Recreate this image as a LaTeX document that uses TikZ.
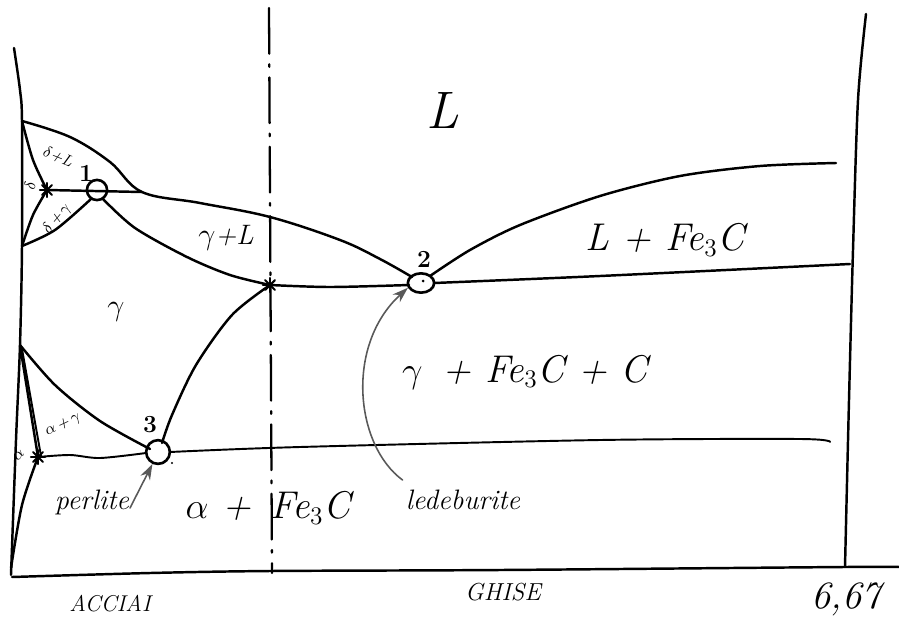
\documentclass[tikz,border=0pt]{standalone}
\usetikzlibrary{arrows.meta,shapes.geometric,calc}
\begin{document}
\begin{tikzpicture}[x=0.02cm,y=-0.02cm,line cap=round,line join=round,
  curve/.style={line width=1.4pt,black},
  thin curve/.style={line width=1.1pt,black},
  pointer/.style={line width=0.9pt,black!65,-{Stealth[length=9pt,width=6pt]}},
  ring/.style={draw,line width=1.5pt,circle,minimum size=21pt,inner sep=0pt},
  ptlabel/.style={font=\bfseries\fontsize{14}{16}\selectfont,inner sep=0pt},
  big/.style={font=\itshape\fontsize{22}{26}\selectfont,inner sep=0pt},
  mid/.style={font=\itshape\fontsize{16}{19}\selectfont,inner sep=0pt},
  small/.style={font=\itshape\fontsize{9}{11}\selectfont,inner sep=0pt},
  caps/.style={font=\itshape\fontsize{13}{15}\selectfont,inner sep=0pt},
  axisdash/.style={line width=1.3pt,dash pattern=on 26pt off 6pt on 1.5pt off 6pt}]
\useasboundingbox (0,0) rectangle (899,619);

% key points
\coordinate (A) at (22,121);
\coordinate (S1) at (47,190);
\coordinate (P1) at (97,190);
\coordinate (K) at (142,192);
\coordinate (D) at (22,246);
\coordinate (S2) at (270,285);
\coordinate (P2) at (421,283);
\coordinate (G) at (20,345);
\coordinate (S3) at (38,457);
\coordinate (P3) at (158,452);

% frame
\draw[curve] plot[smooth] coordinates {(14,48)(20,90)(22,121)(22,246)(20,345)(16,440)(11,575)};
\draw[curve] plot[smooth] coordinates {(12,577)(150,573)(270,571)(500,570)(844,567)(899,567)};
\draw[curve] plot[smooth] coordinates {(866,14)(858,100)(853,250)(849,400)(845,567)};
\draw[axisdash] (269,8) -- (272,573);

% liquidus and boundaries
\draw[curve] plot[smooth,tension=0.6] coordinates {(A)(70,137)(110,162)(K)(200,203)(270,217)(340,240)(380,259)(412,277)};
\draw[curve] (S1) -- (K);
\draw[curve] plot[smooth] coordinates {(A)(33,160)(S1)};
\draw[curve] plot[smooth] coordinates {(S1)(33,215)(D)};
\draw[curve] plot[smooth] coordinates {(D)(55,230)(91,199)};
\draw[curve] plot[smooth] coordinates {(103,199)(135,228)(187,257)(230,275)(S2)};
\draw[curve] plot[smooth] coordinates {(S2)(330,287)(409,285)};
\draw[curve] plot[smooth] coordinates {(434,283)(600,276)(850,264)};
\draw[curve] plot[smooth] coordinates {(430,276)(470,250)(520,225)(600,196)(680,176)(760,166)(836,163)};
\draw[curve] plot[smooth] coordinates {(S2)(232,315)(196,365)(172,415)(162,443)};
\draw[curve] plot[smooth] coordinates {(G)(55,385)(100,421)(150,449)};
\draw[thin curve] plot[smooth] coordinates {(S3)(70,455)(100,458)(146,453)};
\draw[thin curve] plot[smooth] coordinates {(170,452)(300,447)(600,440)(800,439)(830,442)};
\draw[curve] (G) -- (S3);
\draw[thin curve] (22,349) -- (41,456);
\draw[curve] plot[smooth] coordinates {(S3)(22,505)(11,568)};

% invariant points
\node[ring,minimum size=11.5pt] (c1) at (P1) {};
\node[draw,line width=1.5pt,ellipse,minimum width=15pt,minimum height=11pt,inner sep=0pt] (c2) at (P2) {};
\node[ring,minimum size=13.5pt] (c3) at (P3) {};
\fill (423,281) circle (1.5);
\fill (172,463) circle (1.2);
\foreach \p in {S1,S2,S3}{
  \foreach \a in {0,45,90,135}{
    \draw[line width=1.2pt] ($(\p)+(\a:7)$) -- ($(\p)+(\a+180:7)$);
  }
}
\node[ptlabel] (n1) at (86,173) {1};
\node[ptlabel] (n2) at (424,259) {2};
\node[ptlabel] (n3) at (150,425) {3};

% region labels
\node[font=\itshape\fontsize{30}{34}\selectfont,inner sep=0pt] (L) at (443,110) {L};
\node[big] (LF) at (665,240) {L + Fe$_3$C};
\node[big] (GFC) at (525,372) {$\gamma$\, + Fe$_3$C + C};
\node[mid] (GL) at (226,238) {$\gamma$+L};
\node[mid] (G1) at (116,312) {$\gamma$};
\node[small,rotate=-22] (DL) at (58,157) {$\delta$+L};
\node[small,rotate=80] (D1) at (30,186) {$\delta$};
\node[small,rotate=50] (DG) at (57,219) {$\delta$\,+\,$\gamma$};
\node[small,rotate=25] (AG) at (63,425) {$\alpha$\,+\,$\gamma$};
\node[small,rotate=45] (A1) at (19,455) {$\alpha$};
\node[mid] (PE) at (92,502) {perlite};
\node[big] (AF) at (268,508) {$\alpha$ + \,Fe$_3$C};
\node[mid] (LE) at (463,500) {ledeburite};
\node[caps] (AC) at (110,604) {ACCIAI};
\node[caps,font=\itshape\fontsize{14}{16}\selectfont] (GH) at (503,592) {GHISE};
\node[big] (N) at (846,599) {6,67};

% pointers
\draw[pointer] (130,508) -- (c3.-115);
\draw[pointer] ($(LE.west)+(-3,-20)$) .. controls (355,445) and (345,345) .. (c2.-160);
\end{tikzpicture}
\end{document}
